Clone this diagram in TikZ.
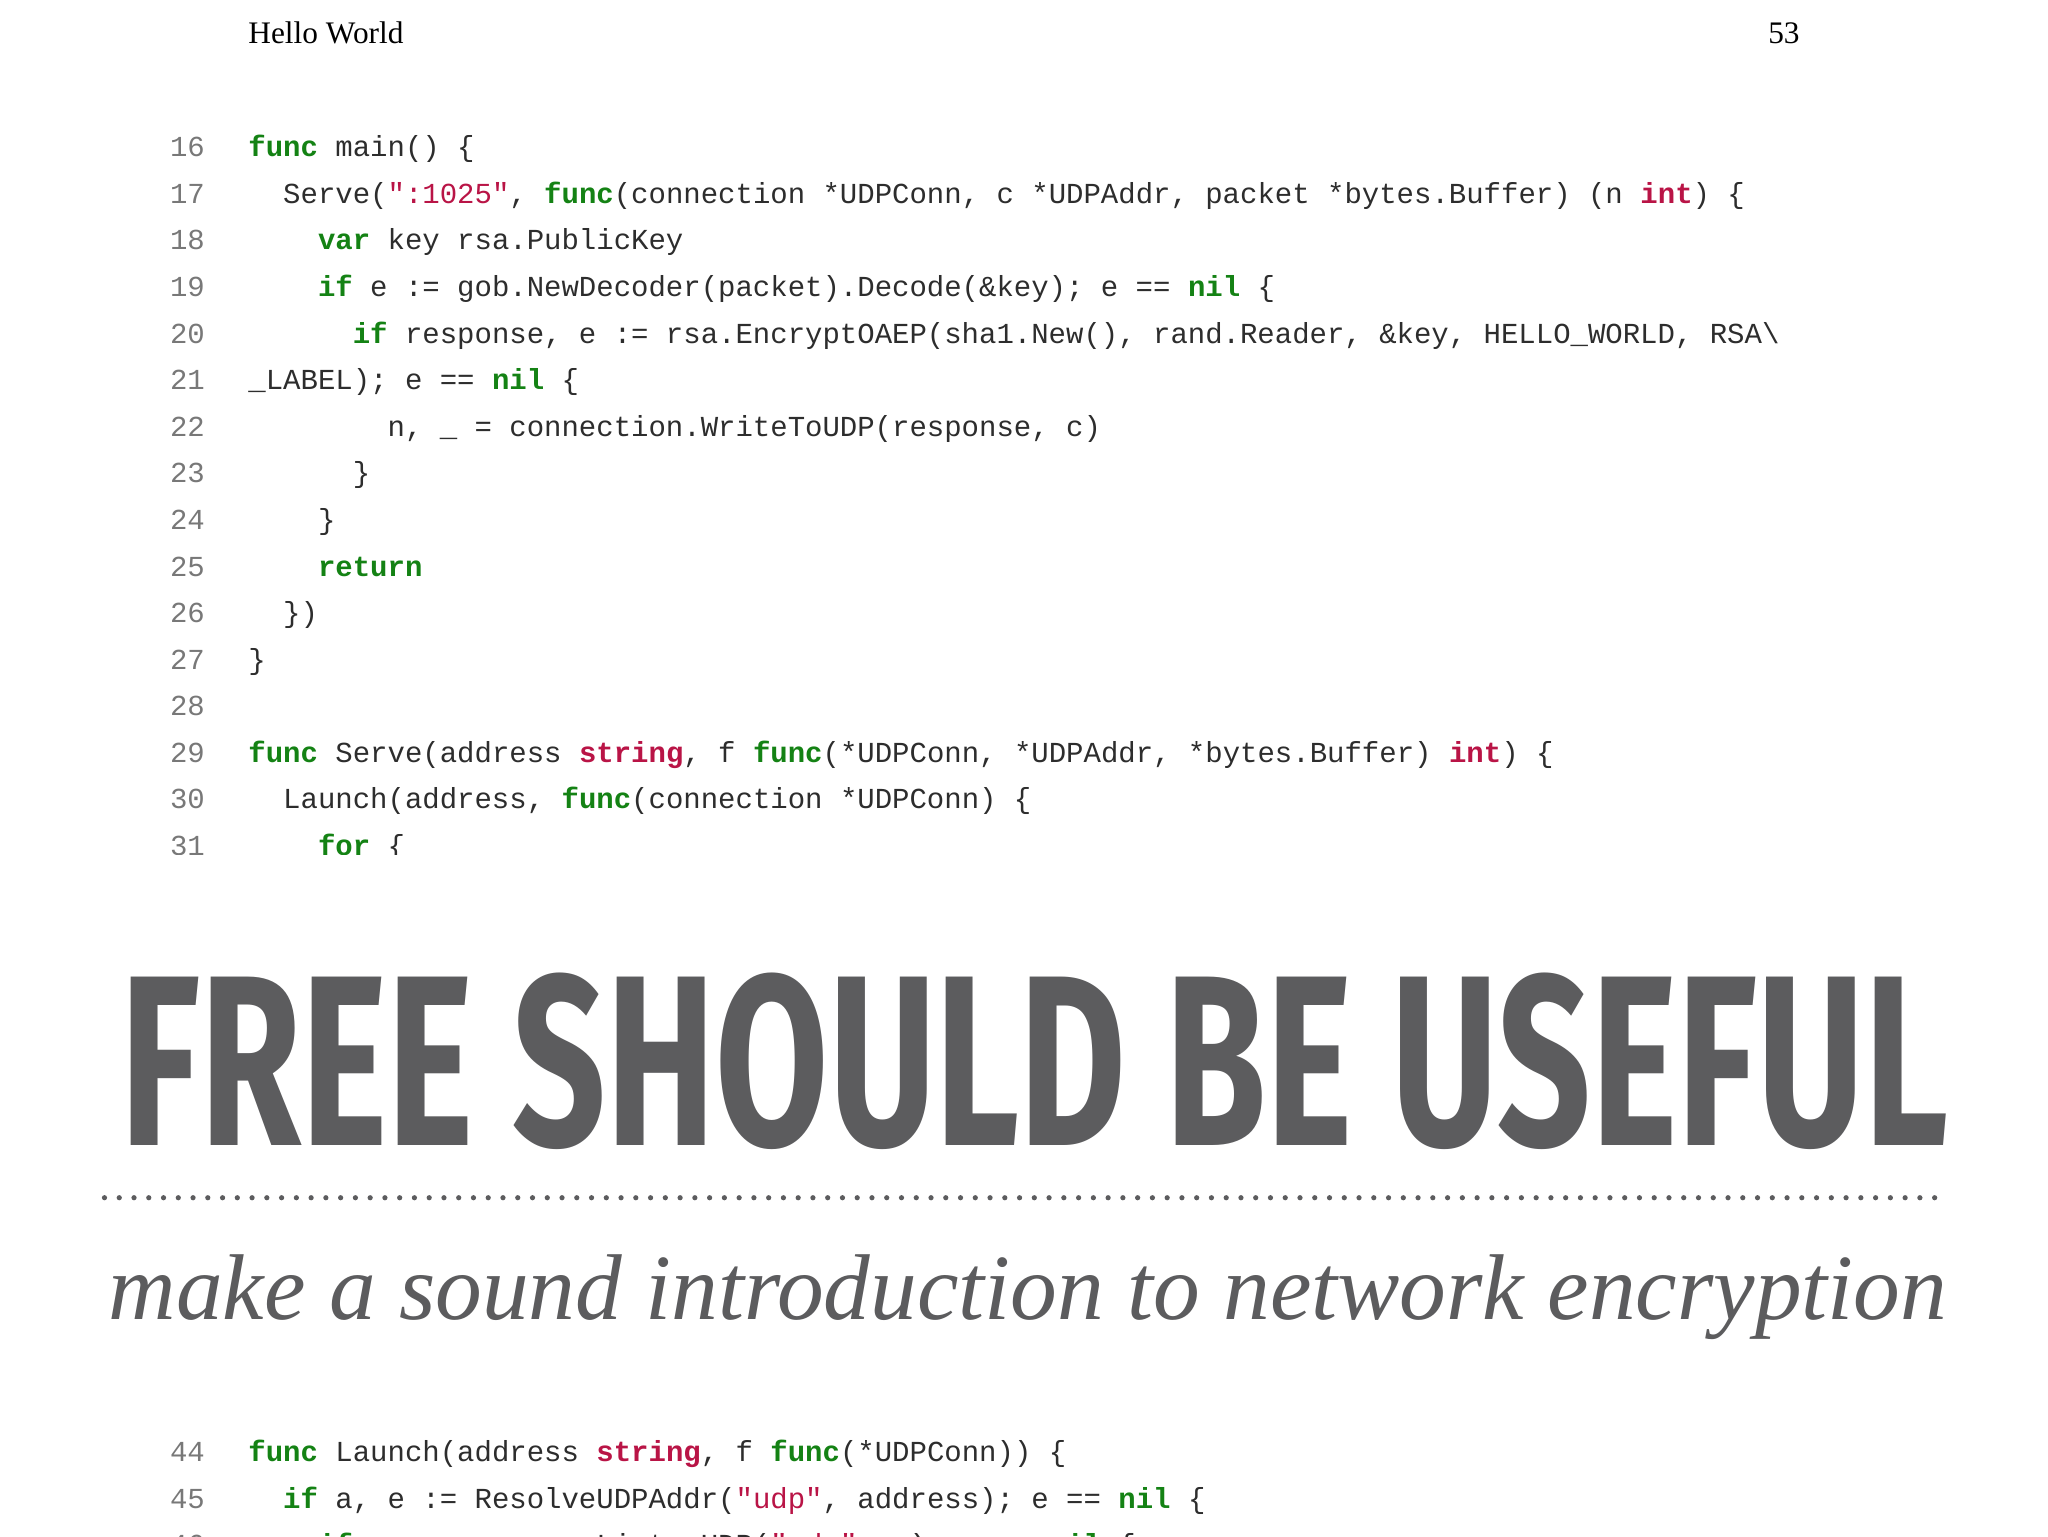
\documentclass[tikz,border=0pt]{standalone}
\usepackage{fontspec}
\setmainfont{Liberation Serif}
\newfontfamily\cf{Liberation Mono}
\newfontfamily\tf{Fira Sans}
\definecolor{kwc}{RGB}{20,130,20}
\definecolor{tyc}{RGB}{185,20,70}
\definecolor{txc}{RGB}{45,45,45}
\definecolor{lnc}{RGB}{120,120,120}
\definecolor{big}{RGB}{92,92,94}
\newcommand{\kw}[1]{{\bfseries\color{kwc}#1}}
\newcommand{\ty}[1]{{\bfseries\color{tyc}#1}}
\newcommand{\st}[1]{{\color{tyc}#1}}
\newcommand{\ind}[1]{\hspace*{#1\dimexpr0.6em\relax}}
\tikzset{code/.style={anchor=base west,inner sep=0pt,font=\fontsize{22.2}{28}\cf,text=txc},
lnum/.style={anchor=base east,inner sep=0pt,font=\fontsize{22.2}{28}\cf,text=lnc}}
\newcommand{\cl}[3]{\node[lnum] (n#1) at (157,#2) {#1};\node[code] (c#1) at (190,#2) {#3};}
\begin{document}
\begin{tikzpicture}[x=1pt,y=-1pt]
\useasboundingbox (0,0) rectangle (1568,1176);
\node[anchor=base west,inner sep=0pt,font=\fontsize{24}{28}\selectfont] (hd) at (190,33) {Hello World};
\node[anchor=base east,inner sep=0pt,font=\fontsize{24}{28}\selectfont] (pg) at (1378,33) {53};
\begin{scope}
\clip (0,80) rectangle (1568,654);
\cl{16}{120}{\kw{func} main() \{}
\cl{17}{155.7}{\ind{2}Serve(\st{":1025"}, \kw{func}(connection *UDPConn, c *UDPAddr, packet *bytes.Buffer) (n \ty{int}) \{}
\cl{18}{191.3}{\ind{4}\kw{var} key rsa.PublicKey}
\cl{19}{227}{\ind{4}\kw{if} e := gob.NewDecoder(packet).Decode(\&key); e == \kw{nil} \{}
\cl{20}{262.7}{\ind{6}\kw{if} response, e := rsa.EncryptOAEP(sha1.New(), rand.Reader, \&key, HELLO\_WORLD, RSA\textbackslash}
\cl{21}{298.3}{\_LABEL); e == \kw{nil} \{}
\cl{22}{334}{\ind{8}n, \_ = connection.WriteToUDP(response, c)}
\cl{23}{369.7}{\ind{6}\}}
\cl{24}{405.3}{\ind{4}\}}
\cl{25}{441}{\ind{4}\kw{return}}
\cl{26}{476.7}{\ind{2}\})}
\cl{27}{512.3}{\}}
\cl{28}{548}{}
\cl{29}{583.7}{\kw{func} Serve(address \ty{string}, f \kw{func}(*UDPConn, *UDPAddr, *bytes.Buffer) \ty{int}) \{}
\cl{30}{619.3}{\ind{2}Launch(address, \kw{func}(connection *UDPConn) \{}
\cl{31}{655}{\ind{4}\kw{for} \{}
\end{scope}
\node[anchor=south west,inner sep=0pt,text=big] (title) at (92,880) {\resizebox{1398pt}{132pt}{\tf\bfseries FREE SHOULD BE USEFUL}};
\coordinate (d1) at (80,917); \coordinate (d2) at (1492,917);
\draw[big,line width=4pt,line cap=round,dash pattern=on 0pt off 11.3pt] (d1) -- (d2);
\node[anchor=base west,inner sep=0pt,text=big] (sub) at (83,1010) {\resizebox{1407pt}{!}{\itshape make a sound introduction to network encryption}};
\cl{44}{1119}{\kw{func} Launch(address \ty{string}, f \kw{func}(*UDPConn)) \{}
\cl{45}{1154.7}{\ind{2}\kw{if} a, e := ResolveUDPAddr(\st{"udp"}, address); e == \kw{nil} \{}
\cl{46}{1190.3}{\ind{4}\kw{if} server, e := ListenUDP(\st{"udp"}, a); e == \kw{nil} \{}
\end{tikzpicture}
\end{document}
